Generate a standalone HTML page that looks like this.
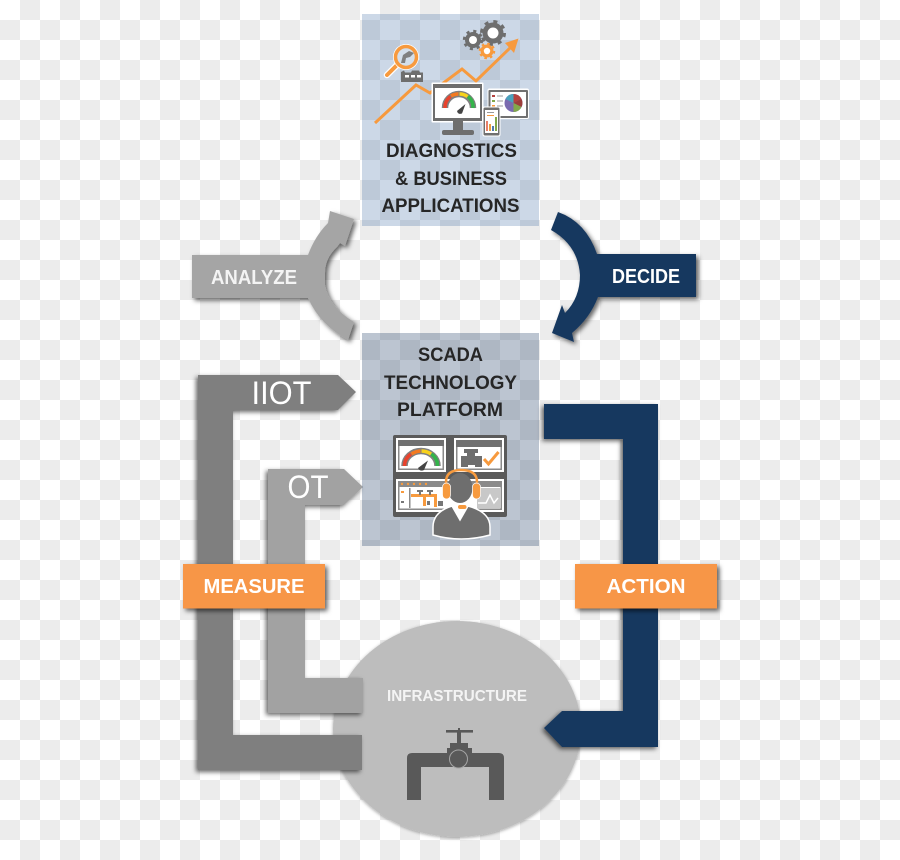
<!DOCTYPE html>
<html>
<head>
<meta charset="utf-8">
<style>
html,body{margin:0;padding:0;background:#fff;width:900px;height:860px;overflow:hidden}
svg{display:block}
text{font-family:"Liberation Sans",sans-serif}
</style>
</head>
<body>
<svg width="900" height="860" viewBox="0 0 900 860" xmlns="http://www.w3.org/2000/svg">
<defs>
<pattern id="ck" width="40" height="40" patternUnits="userSpaceOnUse">
<rect width="40" height="40" fill="#fff"/>
<rect x="20" y="0" width="20" height="20" fill="#ececec"/>
<rect x="0" y="20" width="20" height="20" fill="#ececec"/>
</pattern>
<filter id="sr" x="-20%" y="-20%" width="140%" height="140%"><feDropShadow dx="2.500" dy="2.500" stdDeviation="2.500" flood-color="#000" flood-opacity=".6"/></filter>
<filter id="sl" x="-20%" y="-20%" width="140%" height="140%"><feDropShadow dx="-2" dy="2" stdDeviation="2.500" flood-color="#000" flood-opacity=".6"/></filter>
<filter id="sc" x="-10%" y="-10%" width="120%" height="120%"><feDropShadow dx="0" dy="1" stdDeviation="1.500" flood-color="#000" flood-opacity=".35"/></filter>
</defs>
<rect width="900" height="860" fill="url(#ck)"/>

<!-- infrastructure circle -->
<ellipse cx="457" cy="729" rx="124" ry="108" fill="#bdbdbd" filter="url(#sc)"/>
<text x="457" y="701" text-anchor="middle" font-size="16" font-weight="bold" fill="#f4f4f4" textLength="140" lengthAdjust="spacingAndGlyphs">INFRASTRUCTURE</text>
<g fill="#595959">
<path d="M407 800V758q0-5 5-5H499q5 0 5 5V800H489V767H421V800Z"/>
<rect x="447" y="748" width="25" height="6"/>
<rect x="450" y="743" width="18" height="6"/>
<rect x="457" y="732" width="4" height="12"/>
<rect x="446" y="730" width="27" height="2.600"/>
<rect x="458" y="728" width="2" height="3"/>
<circle cx="458.500" cy="759" r="9" stroke="#a5a5a5" stroke-width="1"/>
</g>

<!-- OT -->
<path d="M268 469H344L363 487L344 505H305V678H363V713H268Z" fill="#a2a2a2" filter="url(#sl)"/>
<!-- IIOT -->
<path d="M198 375H338L356 392L338 410H233V735H362V770H198Z" fill="#7f7f7f" filter="url(#sl)"/>
<text x="281.500" y="404" text-anchor="middle" font-size="32" fill="#fff" textLength="60" lengthAdjust="spacingAndGlyphs">IIOT</text>
<text x="308" y="498" text-anchor="middle" font-size="32" fill="#fff" textLength="41" lengthAdjust="spacingAndGlyphs">OT</text>

<!-- ACTION pipe -->
<path d="M544 404H658V747H562L544 728L562 711H623V439H544Z" fill="#17375e" filter="url(#sl)"/>

<!-- ANALYZE -->
<path d="M192 255H308Q315 236 328 223L330 211L354 219L345 246L340 243L337 247Q325 258 325 273V285Q329 307 354 322L348 340Q320 325 308 298H192Z" fill="#a5a5a5" filter="url(#sr)"/>
<text x="254" y="284" text-anchor="middle" font-size="20" font-weight="bold" fill="#f4f4f4" textLength="86" lengthAdjust="spacingAndGlyphs">ANALYZE</text>

<!-- DECIDE -->
<path d="M558 212Q586 222 597 254H696V297H598Q590 318 572 333L574 342L552 333L562 305L565 313Q580 298 580 275Q578 245 551 230Z" fill="#17375e" filter="url(#sr)"/>
<text x="646" y="283" text-anchor="middle" font-size="20" font-weight="bold" fill="#fff" textLength="68" lengthAdjust="spacingAndGlyphs">DECIDE</text>

<!-- top box -->
<rect x="362" y="14" width="177" height="212" fill="#0c478f" fill-opacity=".21"/>
<g font-size="19" font-weight="bold" fill="#262626" text-anchor="middle">
<text x="451.500" y="157" textLength="131" lengthAdjust="spacingAndGlyphs">DIAGNOSTICS</text>
<text x="451" y="185" textLength="112" lengthAdjust="spacingAndGlyphs">&amp; BUSINESS</text>
<text x="450.500" y="212" textLength="138" lengthAdjust="spacingAndGlyphs">APPLICATIONS</text>
</g>
<!-- top icons -->
<polyline points="375,123 416,85 430,93 462,69 476,81 512,46" fill="none" stroke="#f79a3e" stroke-width="3"/>
<path d="M518.500 38.500L505 43L514 53Z" fill="#f79a3e"/>
<!-- gears -->
<g fill="#6e6e6e">
<circle cx="473" cy="40" r="8"/>
<circle cx="493" cy="33" r="10.500"/>
</g>
<g fill="none" stroke="#6e6e6e" stroke-width="3">
<circle cx="473" cy="40" r="8.700" stroke-dasharray="3 3.830"/>
<circle cx="493" cy="33" r="11.500" stroke-dasharray="4 5.030"/>
</g>
<circle cx="473" cy="40" r="4" fill="#fff"/>
<circle cx="493" cy="33" r="5.500" fill="#fff"/>
<circle cx="487" cy="51" r="6.500" fill="#f79a3e"/>
<circle cx="487" cy="51" r="7" fill="none" stroke="#f79a3e" stroke-width="2.500" stroke-dasharray="2.500 3"/>
<circle cx="487" cy="51" r="3.200" fill="#fff"/>
<!-- magnifier -->
<line x1="387" y1="75" x2="397" y2="65" stroke="#fff" stroke-width="6.500" stroke-linecap="round"/>
<line x1="387" y1="75" x2="397" y2="65" stroke="#f79a3e" stroke-width="4" stroke-linecap="round"/>
<circle cx="406" cy="57" r="13" fill="#fff"/>
<circle cx="406" cy="57" r="10.500" fill="#d4dfeb" stroke="#f79a3e" stroke-width="3.500"/>
<path d="M401 63l2-8 6-4 5 2-4 4-4 1-1 5Z" fill="#808080"/>
<path d="M401 82V72l3-1.500 1 2h6l1-2h7l1 2h3v9.500Z" fill="#6e6e6e"/>
<rect x="405" y="75" width="4" height="2.500" fill="#fff"/><rect x="411" y="75" width="4" height="2.500" fill="#fff"/><rect x="417" y="75" width="4" height="2.500" fill="#fff"/>
<!-- monitor -->
<rect x="431.500" y="82.500" width="52" height="40" rx="1" fill="#fff"/>
<rect x="433" y="84" width="49" height="37" fill="#6e6e6e"/>
<rect x="435" y="88" width="45" height="30" fill="#fff"/>
<rect x="453" y="121" width="10" height="10" fill="#6e6e6e"/>
<rect x="442" y="130" width="32" height="5" rx="2" fill="#6e6e6e"/>
<path d="M445 108A14 14 0 0 1 473 108" fill="none" stroke="#808080" stroke-width="6.500"/>
<path d="M445 108A14 14 0 0 1 450.500 96.500" fill="none" stroke="#e8432d" stroke-width="3.500"/>
<path d="M451 96A14 14 0 0 1 458.500 94" fill="none" stroke="#f47a20" stroke-width="3.500"/>
<path d="M459.500 94A14 14 0 0 1 467.500 96.500" fill="none" stroke="#f8d21b" stroke-width="3.500"/>
<path d="M468 96.500A14 14 0 0 1 473 108" fill="none" stroke="#33b44a" stroke-width="3.500"/>
<path d="M457 111L465.500 104L462 113.500Q458 115 457 111Z" fill="#444"/>
<!-- tablet -->
<rect x="487.500" y="88.500" width="41.500" height="30.500" rx="2" fill="#fff"/>
<rect x="488.500" y="90" width="39.500" height="28" rx="1" fill="#707070"/>
<rect x="490.500" y="92" width="35.500" height="24" fill="#fff"/>
<circle cx="513.500" cy="103" r="9" fill="#7a6bb0"/>
<path d="M513.500 103V94a9 9 0 0 1 8 5Z" fill="#b5423f"/>
<path d="M513.500 103L521.500 99a9 9 0 0 1 0 8Z" fill="#9c3d3a"/>
<path d="M513.500 103L521.500 107a9 9 0 0 1-8 5Z" fill="#82a84a"/>
<path d="M513.500 103L505.500 99a9 9 0 0 1 8-5Z" fill="#4aa2bd"/>
<rect x="492" y="95" width="3" height="2" fill="#b5423f"/><rect x="497" y="95.500" width="6" height="1" fill="#999"/>
<rect x="492" y="100" width="3" height="2" fill="#82a84a"/><rect x="497" y="100.500" width="6" height="1" fill="#999"/>
<rect x="492" y="105" width="3" height="2" fill="#f79a3e"/><rect x="497" y="105.500" width="6" height="1" fill="#999"/>
<!-- phone -->
<rect x="482.500" y="106.500" width="18" height="30" rx="2" fill="#fff"/>
<rect x="483.500" y="107.500" width="16" height="28" rx="1.500" fill="#707070"/>
<rect x="485" y="110" width="13" height="23" fill="#fff"/>
<rect x="486" y="121" width="2" height="10" fill="#e8806a"/><rect x="489" y="124" width="2" height="7" fill="#e8a040"/><rect x="492" y="126" width="2" height="5" fill="#4f7ab0"/><rect x="495" y="117" width="2" height="14" fill="#82a84a"/>
<rect x="487" y="112" width="7" height="1" fill="#999"/><rect x="487" y="115" width="7" height="1" fill="#f79a3e"/>

<!-- bottom box -->
<rect x="362" y="333" width="177" height="213" fill="#072955" fill-opacity=".27"/>
<g font-size="19" font-weight="bold" fill="#262626" text-anchor="middle">
<text x="450.500" y="361" textLength="65" lengthAdjust="spacingAndGlyphs">SCADA</text>
<text x="450.500" y="389" textLength="133" lengthAdjust="spacingAndGlyphs">TECHNOLOGY</text>
<text x="450" y="416" textLength="106" lengthAdjust="spacingAndGlyphs">PLATFORM</text>
</g>
<!-- scada panels -->
<rect x="393" y="435" width="114" height="82" rx="2" fill="#5a5a5a"/>
<rect x="396" y="438" width="50" height="34" fill="#fff"/>
<rect x="398" y="440" width="46" height="6" fill="#707070"/>
<rect x="398" y="446" width="1.500" height="24" fill="#8a8a8a"/><rect x="442.500" y="446" width="1.500" height="24" fill="#8a8a8a"/><rect x="398" y="468.500" width="46" height="1.500" fill="#8a8a8a"/>
<path d="M404.500 466A16.500 15 0 0 1 437.500 466" fill="none" stroke="#808080" stroke-width="6.500"/>
<path d="M404.500 466A16.500 15 0 0 1 411 454" fill="none" stroke="#e8432d" stroke-width="3.500"/>
<path d="M411.500 454A16.500 15 0 0 1 420.500 451" fill="none" stroke="#f47a20" stroke-width="3.500"/>
<path d="M421.500 451A16.500 15 0 0 1 431 454" fill="none" stroke="#f8d21b" stroke-width="3.500"/>
<path d="M431.500 454A16.500 15 0 0 1 437.500 466" fill="none" stroke="#33b44a" stroke-width="3.500"/>
<path d="M418 468L428 460.500L424 470Q420 472 418 468Z" fill="#444"/>
<rect x="454" y="438" width="50" height="34" fill="#fff"/>
<rect x="456" y="440" width="46" height="7" fill="#707070"/>
<rect x="456" y="447" width="1.500" height="23" fill="#8a8a8a"/><rect x="500.500" y="447" width="1.500" height="23" fill="#8a8a8a"/><rect x="456" y="468.500" width="46" height="1.500" fill="#8a8a8a"/>
<path d="M461 456h6v-3h-3v-4h14v4h-3v3h7v11h-7v-2h-7v2h-7Z" fill="#6e6e6e"/>
<path d="M484 459l4.500 5 10-12" fill="none" stroke="#f79a3e" stroke-width="3"/>
<rect x="396" y="479" width="108" height="33" fill="#fff"/>
<rect x="398" y="481" width="104" height="6" fill="#8a8a8a"/>
<rect x="398" y="487" width="1.500" height="23" fill="#8a8a8a"/><rect x="500.500" y="487" width="1.500" height="23" fill="#8a8a8a"/><rect x="398" y="508.500" width="104" height="1.500" fill="#8a8a8a"/>
<rect x="409" y="488" width="1.500" height="20" fill="#8a8a8a"/>
<g fill="#f79a3e"><circle cx="402" cy="484" r="1.200"/><circle cx="408" cy="484" r="1.200"/><circle cx="414" cy="484" r="1.200"/><circle cx="420" cy="484" r="1.200"/><circle cx="426" cy="484" r="1.200"/>
<rect x="411" y="494" width="26" height="3"/><rect x="423" y="497" width="3" height="9"/><rect x="434" y="497" width="3" height="10"/>
<rect x="401" y="491" width="3" height="2"/></g>
<g fill="#777"><rect x="401" y="501" width="3" height="2"/><rect x="417" y="490" width="6" height="2"/><rect x="419" y="491" width="2" height="4"/><rect x="427" y="490" width="6" height="2"/><rect x="429" y="491" width="2" height="4"/><rect x="438" y="501" width="5" height="5"/><rect x="427" y="501" width="3" height="4"/></g>
<rect x="477" y="488" width="24" height="20" fill="#c8c8c8"/>
<polyline points="478,503 486,503 490,495 494,503 498,498" fill="none" stroke="#fff" stroke-width="1.500"/>
<!-- operator -->
<path d="M433 535V527Q433 512 452 506L460 520L468 506Q490 512 490 527V535Q461 543 433 535Z" fill="#6e6e6e" stroke="#fff" stroke-width="1.500"/>
<path d="M453 508L460 520L467 508Z" fill="#fff"/>
<ellipse cx="460" cy="488" rx="12.500" ry="15" fill="#6e6e6e"/>
<path d="M446 488V482Q446 470 461 470Q477 470 477 482V488" fill="none" stroke="#f79a3e" stroke-width="2.500"/>
<rect x="442.500" y="483" width="8" height="16" rx="4" fill="#f79a3e" stroke="#fff" stroke-width=".7"/>
<rect x="472.500" y="483" width="8" height="16" rx="4" fill="#f79a3e" stroke="#fff" stroke-width=".7"/>
<path d="M447 499Q449 505 458 507" fill="none" stroke="#fff" stroke-width="1.500"/>
<rect x="458" y="505" width="8.500" height="4" rx="2" fill="#f79a3e"/>

<!-- orange labels -->
<rect x="183" y="564" width="142" height="44.500" fill="#f79646" filter="url(#sr)"/>
<rect x="575" y="564" width="142" height="44.500" fill="#f79646" filter="url(#sr)"/>
<text x="254" y="593" text-anchor="middle" font-size="20" font-weight="bold" fill="#fff" textLength="101" lengthAdjust="spacingAndGlyphs">MEASURE</text>
<text x="646" y="593" text-anchor="middle" font-size="20" font-weight="bold" fill="#fff" textLength="79" lengthAdjust="spacingAndGlyphs">ACTION</text>
</svg>
</body>
</html>
